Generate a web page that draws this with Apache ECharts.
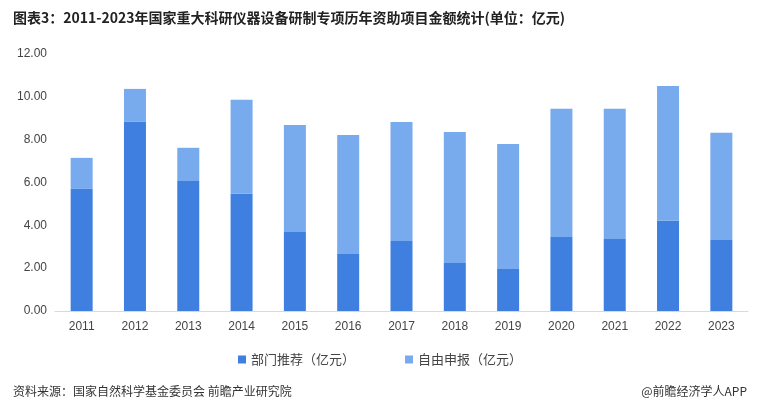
<!DOCTYPE html><html><head><meta charset="utf-8"><script src="https://cdn.jsdelivr.net/npm/echarts@6/dist/echarts.min.js"></script>
<style>body{margin:0;background:#fff}#c{width:760px;height:410px}</style></head><body><div id="c"></div><script>
const years=['2011','2012','2013','2014','2015','2016','2017','2018','2019','2020','2021','2022','2023'];
const dept=[5.70,8.83,6.07,5.47,3.69,2.66,3.27,2.24,1.96,3.46,3.36,4.21,3.32];
const free=[1.45,1.54,1.55,4.39,5.00,5.56,5.56,6.12,5.84,5.98,6.08,6.30,5.00];
const yTicks=[0,2,4,6,8,10,12];
const c=echarts.init(document.getElementById('c'));
c.setOption({
 animation:false,
 title:[{text:'图表3：2011-2023年国家重大科研仪器设备研制专项历年资助项目金额统计(单位：亿元)',left:8,top:6,textStyle:{fontSize:14,fontWeight:'bold',color:'#222',fontFamily:'Noto Sans CJK SC'}},
 {text:'资料来源：国家自然科学基金委员会 前瞻产业研究院',left:8,top:380,textStyle:{fontSize:12,fontWeight:'normal',color:'#333',fontFamily:'Noto Sans CJK SC'}},
 {text:'@前瞻经济学人APP',right:8,top:380,textStyle:{fontSize:12,fontWeight:'normal',color:'#333',fontFamily:'Noto Sans CJK SC'}}],
 legend:{top:348,left:'center',itemWidth:8,itemHeight:8,itemGap:50,icon:'rect',textStyle:{fontSize:13,color:'#444',fontFamily:'Noto Sans CJK SC'}},
 grid:{left:55,right:12,top:54,bottom:99},
 xAxis:{type:'category',data:years,axisTick:{show:false},axisLine:{lineStyle:{color:'#d9d9d9'}},axisLabel:{color:'#444',fontSize:12,margin:10}},
 yAxis:{type:'value',min:0,max:12,interval:2,splitLine:{show:false},axisLine:{show:false},axisTick:{show:false},
  axisLabel:{color:'#444',fontSize:12,formatter:v=>yTicks.includes(v)?v.toFixed(2):''}},
 series:[
  {name:'部门推荐（亿元）',type:'bar',stack:'a',barWidth:22,data:dept,itemStyle:{color:'#3f7fdf'}},
  {name:'自由申报（亿元）',type:'bar',stack:'a',barWidth:22,data:free,itemStyle:{color:'#78aaee'}}
 ]
});
</script></body></html>
